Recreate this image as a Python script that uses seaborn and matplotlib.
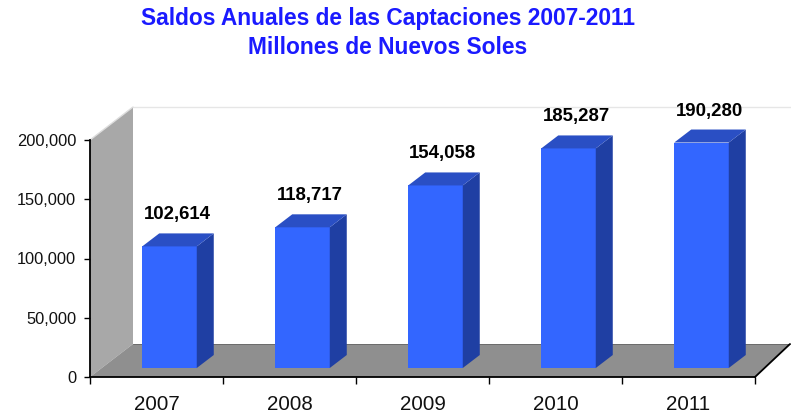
import matplotlib
matplotlib.use("Agg")
import matplotlib.pyplot as plt
from matplotlib.patches import Polygon
from matplotlib.lines import Line2D
import seaborn as sns
import pandas as pd

years = ["2007", "2008", "2009", "2010", "2011"]
saldos = [102614, 118717, 154058, 185287, 190280]
yticks = [0, 50000, 100000, 150000, 200000]
title = "Saldos Anuales de las Captaciones 2007-2011\nMillones de Nuevos Soles"

sns.set_style("white")
plt.rcParams["font.family"] = ["Liberation Sans", "DejaVu Sans"]

W, H = 791, 413
fig = plt.figure(figsize=(W / 100, H / 100), dpi=100)
ax_l, ax_b, ax_w, ax_h = 90, 36, 665, 237
ax = fig.add_axes([ax_l / W, ax_b / H, ax_w / W, ax_h / H])
ax.set_xlim(-0.5, 4.5)
ax.set_ylim(0, 200000)

ux = 5.0 / ax_w
uy = 200000.0 / ax_h

def off(x, y, px, py):
    return (x + px * ux, y + py * uy)

# walls
DX, DY = 43, 33
wall_col = "#a8a8a8"
floor_col = "#8f8f8f"
left_wall = Polygon([(-0.5, 0), (-0.5, 200000), off(-0.5, 200000, DX, DY), off(-0.5, 0, DX, DY)],
                    closed=True, facecolor=wall_col, edgecolor="none", zorder=0, clip_on=False)
ax.add_patch(left_wall)
floor = Polygon([(-0.5, 0), (4.5, 0), off(4.5, 0, DX - 8, DY), off(-0.5, 0, DX, DY)],
                closed=True, facecolor=floor_col, edgecolor="none", zorder=0, clip_on=False)
ax.add_patch(floor)
p1 = off(-0.5, 200000, DX, DY)
p2 = off(4.5, 200000, DX, DY)
ax.add_line(Line2D([p1[0], p2[0]], [p1[1], p2[1]], color="#e6e6e6", lw=1, zorder=0, clip_on=False))
ax.add_line(Line2D([-0.5, p1[0]], [200000, p1[1]], color="#dddddd", lw=1, zorder=0, clip_on=False))
q = off(4.5, 0, DX - 8, DY)
ax.add_line(Line2D([4.5, q[0]], [0, q[1]], color="black", lw=1.3, zorder=3, clip_on=False))
q0 = off(-0.5, 0, DX, DY)
ax.add_line(Line2D([q0[0], q[0]], [q0[1], q[1]], color="#666666", lw=0.6, zorder=0, clip_on=False))

df = pd.DataFrame({"year": years, "saldo": saldos})
sns.barplot(data=df, x="year", y="saldo", width=0.41, color="#3366ff",
            saturation=1, ax=ax, zorder=2)
ax.set_xlim(-0.5, 4.5)
ax.set_ylim(0, 200000)

BX, BY = 13, 9      # bar offset into depth
SX, SY = 17, 13     # bar depth
side_col = "#1f3fa3"
top_col = "#2a4fc4"
for p, v in zip(ax.patches[-len(saldos):], saldos):
    x0 = p.get_x() + BX * ux
    p.set_x(x0)
    p.set_y(BY * uy)
    p.set_edgecolor("none")
    p.set_clip_on(False)
    w = p.get_width()
    y0 = BY * uy
    y1 = y0 + v
    x1 = x0 + w
    side = Polygon([(x1, y0), (x1, y1), off(x1, y1, SX, SY), off(x1, y0, SX, SY)],
                   closed=True, facecolor=side_col, edgecolor="none", zorder=2, clip_on=False)
    top = Polygon([(x0, y1), (x1, y1), off(x1, y1, SX, SY), off(x0, y1, SX, SY)],
                  closed=True, facecolor=top_col, edgecolor="none", zorder=2, clip_on=False)
    ax.add_patch(side)
    ax.add_patch(top)
    lx, ly = off(x0 + w / 2, y1, SX / 2 - 1, SY + 10)
    ax.text(lx, ly, f"{v:,}", ha="center", va="bottom", fontsize=13.4,
            fontweight="bold", color="black", zorder=4)

sns.despine(ax=ax, top=True, right=True)
for s in ["left", "bottom"]:
    ax.spines[s].set_color("black")
    ax.spines[s].set_linewidth(1.3)
    ax.spines[s].set_zorder(3)

ax.set_yticks(yticks)
ax.set_yticklabels([f"{t:,}" for t in yticks], fontsize=11.8, color="#111111")
ax.tick_params(axis="y", direction="out", length=4, width=1, color="black", left=True, pad=6)
ax.set_xticks(range(len(years)))
ax.set_xticklabels(years, fontsize=14.8, color="#111111")
ax.tick_params(axis="x", length=0, pad=13)
ax.set_xticks([i - 0.5 for i in range(len(years) + 1)], minor=True)
ax.tick_params(axis="x", which="minor", direction="out", length=5, width=1, color="black", bottom=True)
ax.set_xlabel("")
ax.set_ylabel("")
ax.set_facecolor("none")
ax.grid(False)

fig.text(388 / W, 1 - 33 / H, title, ha="center", va="center", fontsize=16.4,
         fontweight="bold", color="#1a1aff", linespacing=1.35)

fig.savefig("out.png", dpi=100, facecolor="white")
